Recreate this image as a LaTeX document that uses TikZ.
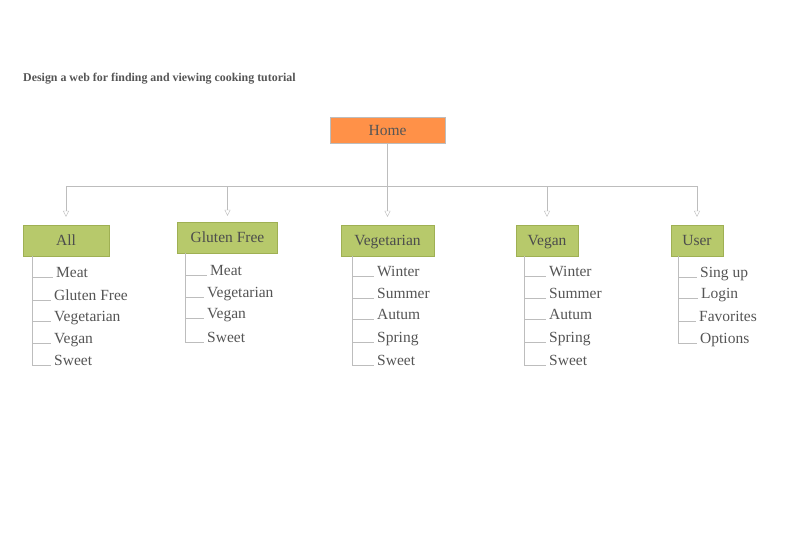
\documentclass[tikz,border=0pt]{standalone}
\usepackage{fontspec}
\setmainfont{Liberation Serif}
\usetikzlibrary{positioning,arrows.meta}

\definecolor{homeorange}{HTML}{FF9148}
\definecolor{catgreen}{HTML}{B7C96B}
\definecolor{catedge}{HTML}{9FB053}
\definecolor{linegray}{HTML}{BDBDBD}
\definecolor{txtgray}{HTML}{555555}

\tikzset{
  home/.style={draw=linegray, fill=homeorange, minimum width=115, minimum height=26, inner sep=0, text=txtgray, font=\fontsize{15.5}{18}\selectfont},
  cat/.style={draw=catedge, fill=catgreen, minimum height=31, inner sep=0, text height=12, text depth=3, text=txtgray!90!black, font=\fontsize{15.5}{18}\selectfont},
  item/.style={anchor=base west, inner sep=0, text=txtgray, font=\fontsize{15.5}{18}\selectfont},
  link/.style={draw=linegray, thin},
  arr/.style={link, -{Triangle[open, length=6, width=6]}},
  tick/.style={link, shorten >=3}
}

\begin{document}
\begin{tikzpicture}[x=1pt, y=-1pt]
\useasboundingbox (0,0) rectangle (785,555);

\node[anchor=west, inner sep=0, text=txtgray, font=\fontsize{11.9}{13}\selectfont\bfseries] (title) at (23,79) {Design a web for finding and viewing cooking tutorial};

\node[home] (home) at (387.5,130) {Home};

\node[cat, minimum width=86] (all) at (66,240.5) {All};
\node[cat, minimum width=100] (gluten) at (227.5,237.5) {Gluten Free};
\node[cat, minimum width=93] (veg) at (387.5,240.5) {Vegetarian};
\node[cat, minimum width=62] (vegan) at (547,240.5) {Vegan};
\node[cat, minimum width=52] (user) at (697,240.5) {User};

\draw[arr, shorten >=8] (home.south) -- ++(0,43) -| (all.north);
\draw[arr, shorten >=6] (home.south) -- ++(0,43) -| (gluten.north);
\draw[arr, shorten >=8] (home.south) -- (veg.north);
\draw[arr, shorten >=8] (home.south) -- ++(0,43) -| (vegan.north);
\draw[arr, shorten >=8] (home.south) -- ++(0,43) -| (user.north);

% All
\node[item] (a1) at (56,277) {Meat};
\node[item] (a2) at (54,300) {Gluten Free};
\node[item] (a3) at (54,321) {Vegetarian};
\node[item] (a4) at (54,343) {Vegan};
\node[item] (a5) at (54,365) {Sweet};
\coordinate (abar) at (32,256);
\draw[tick] (abar) |- (a5.base west);
\draw[tick] (abar |- a1.base) -- (a1.base west);
\draw[tick] (abar |- a2.base) -- (a2.base west);
\draw[tick] (abar |- a3.base) -- (a3.base west);
\draw[tick] (abar |- a4.base) -- (a4.base west);

% Gluten Free
\node[item] (g1) at (210,275) {Meat};
\node[item] (g2) at (207,297) {Vegetarian};
\node[item] (g3) at (207,318) {Vegan};
\node[item] (g4) at (207,342) {Sweet};
\coordinate (gbar) at (185,253);
\draw[tick] (gbar) |- (g4.base west);
\draw[tick] (gbar |- g1.base) -- (g1.base west);
\draw[tick] (gbar |- g2.base) -- (g2.base west);
\draw[tick] (gbar |- g3.base) -- (g3.base west);

% Vegetarian
\node[item] (v1) at (377,276) {Winter};
\node[item] (v2) at (377,298) {Summer};
\node[item] (v3) at (377,319) {Autum};
\node[item] (v4) at (377,342) {Spring};
\node[item] (v5) at (377,365) {Sweet};
\coordinate (vbar) at (352,256);
\draw[tick] (vbar) |- (v5.base west);
\draw[tick] (vbar |- v1.base) -- (v1.base west);
\draw[tick] (vbar |- v2.base) -- (v2.base west);
\draw[tick] (vbar |- v3.base) -- (v3.base west);
\draw[tick] (vbar |- v4.base) -- (v4.base west);

% Vegan
\node[item] (n1) at (549,276) {Winter};
\node[item] (n2) at (549,298) {Summer};
\node[item] (n3) at (549,319) {Autum};
\node[item] (n4) at (549,342) {Spring};
\node[item] (n5) at (549,365) {Sweet};
\coordinate (nbar) at (524,256);
\draw[tick] (nbar) |- (n5.base west);
\draw[tick] (nbar |- n1.base) -- (n1.base west);
\draw[tick] (nbar |- n2.base) -- (n2.base west);
\draw[tick] (nbar |- n3.base) -- (n3.base west);
\draw[tick] (nbar |- n4.base) -- (n4.base west);

% User
\node[item] (u1) at (700,277) {Sing up};
\node[item] (u2) at (701,298) {Login};
\node[item] (u3) at (699,321) {Favorites};
\node[item] (u4) at (700,343) {Options};
\coordinate (ubar) at (678,256);
\draw[tick] (ubar) |- (u4.base west);
\draw[tick] (ubar |- u1.base) -- (u1.base west);
\draw[tick] (ubar |- u2.base) -- (u2.base west);
\draw[tick] (ubar |- u3.base) -- (u3.base west);

\end{tikzpicture}
\end{document}
